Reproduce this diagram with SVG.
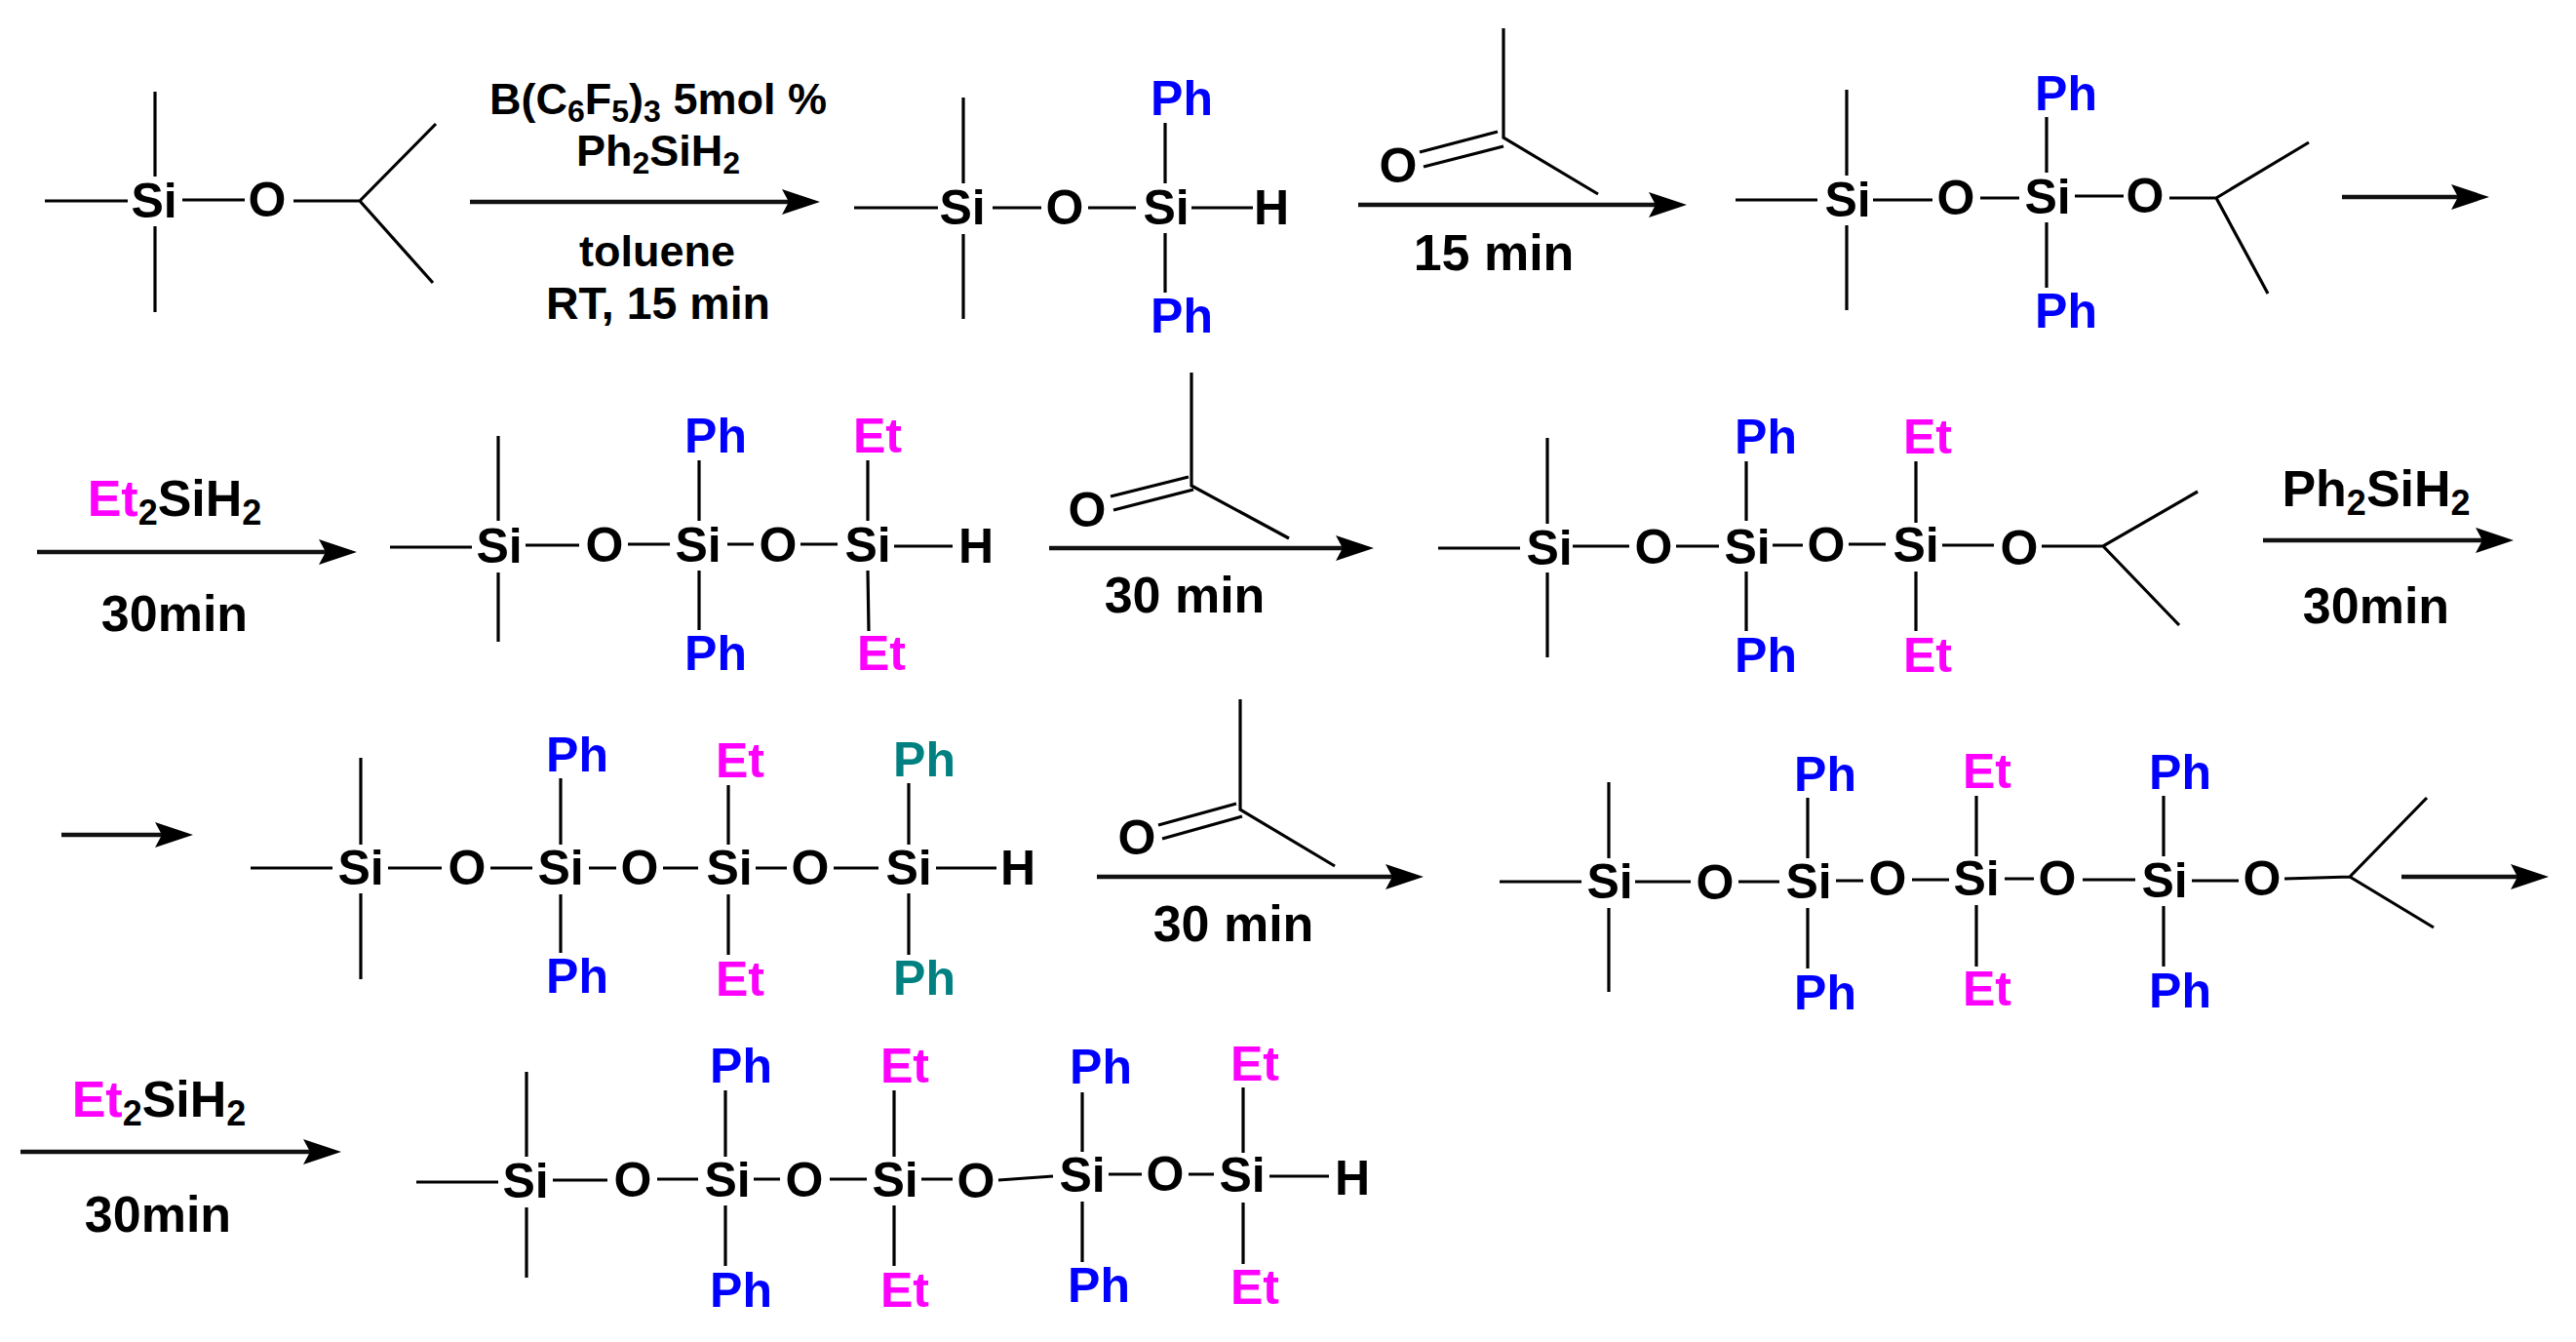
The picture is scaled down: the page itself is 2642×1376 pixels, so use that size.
<svg xmlns="http://www.w3.org/2000/svg" width="2642" height="1376" viewBox="0 0 2642 1376">
<style>
text{font-family:"Liberation Sans",Arial,sans-serif;font-weight:700;text-anchor:middle;fill:#000}
.a{font-size:50px}
.r{font-size:45px}
.t{font-size:52px}
.s{font-size:52px}
.ph{fill:#0000ff}
.et{fill:#ff00ff}
.te{fill:#008080}
.b{fill:none;stroke:#000;stroke-width:3.2;stroke-linecap:butt}
.ar{fill:none;stroke:#111;stroke-width:4.5}
</style>
<defs>
<marker id="head" markerUnits="userSpaceOnUse" markerWidth="44" markerHeight="30" refX="29" refY="15" orient="auto">
<path d="M0,2 L39,15 L0,28 L7,15 Z" fill="#000"/>
</marker>
</defs>
<rect width="2642" height="1376" fill="#fff"/>

<g id="connectors" class="ar">
<line x1="482" y1="207" x2="831" y2="207" marker-end="url(#head)"/>
<line x1="1393" y1="210" x2="1720" y2="210" marker-end="url(#head)"/>
<line x1="2402" y1="202" x2="2543" y2="202" marker-end="url(#head)"/>
<line x1="38" y1="566" x2="356" y2="566" marker-end="url(#head)"/>
<line x1="1076" y1="562" x2="1399" y2="562" marker-end="url(#head)"/>
<line x1="2321" y1="554" x2="2568" y2="554" marker-end="url(#head)"/>
<line x1="63" y1="856" x2="188" y2="856" marker-end="url(#head)"/>
<line x1="1125" y1="899" x2="1450" y2="899" marker-end="url(#head)"/>
<line x1="2463" y1="899" x2="2604" y2="899" marker-end="url(#head)"/>
<line x1="21" y1="1181" x2="340" y2="1181" marker-end="url(#head)"/>
</g>

<g id="reagents1">
<text class="r" x="675" y="117">B(C<tspan font-size="32" dy="8">6</tspan><tspan dy="-8">F</tspan><tspan font-size="32" dy="8">5</tspan><tspan dy="-8">)</tspan><tspan font-size="32" dy="8">3</tspan><tspan dy="-8"> 5mol %</tspan></text>
<text class="r" x="675" y="170">Ph<tspan font-size="32" dy="8">2</tspan><tspan dy="-8">SiH</tspan><tspan font-size="32" dy="8">2</tspan></text>
<text class="r" x="674" y="273">toluene</text>
<text class="r" x="675" y="327" font-size="46" style="font-size:46.5px">RT, 15 min</text>
</g>
<g id="reagents2"><text class="t" x="1532" y="277">15 min</text></g>
<g id="reagents3">
<text class="s" x="179" y="529"><tspan class="et">Et</tspan><tspan font-size="36" dy="9">2</tspan><tspan dy="-9">SiH</tspan><tspan font-size="36" dy="9">2</tspan></text>
<text class="t" x="179" y="647">30min</text>
</g>
<g id="reagents4"><text class="t" x="1215" y="628">30 min</text></g>
<g id="reagents5">
<text class="s" x="2437" y="519">Ph<tspan font-size="36" dy="9">2</tspan><tspan dy="-9">SiH</tspan><tspan font-size="36" dy="9">2</tspan></text>
<text class="t" x="2437" y="639">30min</text>
</g>
<g id="reagents6"><text class="t" x="1265" y="965">30 min</text></g>
<g id="reagents7">
<text class="s" x="163" y="1145"><tspan class="et">Et</tspan><tspan font-size="36" dy="9">2</tspan><tspan dy="-9">SiH</tspan><tspan font-size="36" dy="9">2</tspan></text>
<text class="t" x="162" y="1263">30min</text>
</g>

<g id="acetone1">
<path class="b" d="M1542,29V141L1639,199M1456,156L1536,135M1460,171L1542,150"/>
<text class="a" x="1434" y="187">O</text>
</g>
<g id="acetone2">
<path class="b" d="M1222,382V498L1322,552M1139,509L1219,489M1142,523L1224,502"/>
<text class="a" x="1115" y="540">O</text>
</g>
<g id="acetone3">
<path class="b" d="M1272,717V830L1369,888M1188,846L1268,824M1192,860L1274,837"/>
<text class="a" x="1166" y="876">O</text>
</g>

<g id="mol1">
<path class="b" d="M46,206H131M159,94V181M159,232V320M187,205H251M301,206H369L447,127M369,206L444,290"/>
<text class="a" x="158" y="223">Si</text>
<text class="a" x="274" y="222">O</text>
</g>

<g id="mol2">
<path class="b" d="M876,213H962M988,100V188M988,240V327M1018,213H1068M1116,213H1165M1195,126V188M1195,239V300M1222,213H1285"/>
<text class="a" x="987" y="230">Si</text>
<text class="a" x="1092" y="230">O</text>
<text class="a" x="1196" y="230">Si</text>
<text class="a" x="1304" y="230">H</text>
<text class="a ph" x="1212" y="118">Ph</text>
<text class="a ph" x="1212" y="341">Ph</text>
</g>

<g id="mol3">
<path class="b" d="M1780,205H1864M1894,92V180M1894,231V318M1921,205H1982M2031,203H2071M2099,120V177M2099,228V295M2128,201H2178M2225,203H2273L2368,146M2273,203L2326,301"/>
<text class="a" x="1895" y="222">Si</text>
<text class="a" x="2006" y="220">O</text>
<text class="a" x="2100" y="219">Si</text>
<text class="a" x="2200" y="218">O</text>
<text class="a ph" x="2119" y="113">Ph</text>
<text class="a ph" x="2119" y="336">Ph</text>
</g>

<g id="mol4">
<path class="b" d="M400,561H484M511,447V534M511,587V658M539,559H594M644,558H687M717,472V534M717,585V646M746,558H773M821,558H859M890,472V534M890,585L891,647M917,560H977"/>
<text class="a" x="512" y="577">Si</text>
<text class="a" x="620" y="576">O</text>
<text class="a" x="716" y="576">Si</text>
<text class="a" x="798" y="576">O</text>
<text class="a" x="890" y="576">Si</text>
<text class="a" x="1001" y="577">H</text>
<text class="a ph" x="734" y="464">Ph</text>
<text class="a ph" x="734" y="687">Ph</text>
<text class="a et" x="900" y="464">Et</text>
<text class="a et" x="904" y="687">Et</text>
</g>

<g id="mol5">
<path class="b" d="M1475,562H1559M1587,449V537M1587,587V674M1613,560H1671M1719,560H1763M1791,473V534M1791,586V647M1818,559H1849M1896,558H1934M1965,473V536M1965,586V647M1992,559H2045M2094,560H2157L2254,504M2157,560L2235,641"/>
<text class="a" x="1589" y="579">Si</text>
<text class="a" x="1696" y="578">O</text>
<text class="a" x="1792" y="578">Si</text>
<text class="a" x="1873" y="576">O</text>
<text class="a" x="1965" y="576">Si</text>
<text class="a" x="2071" y="579">O</text>
<text class="a ph" x="1811" y="465">Ph</text>
<text class="a ph" x="1811" y="689">Ph</text>
<text class="a et" x="1977" y="465">Et</text>
<text class="a et" x="1977" y="689">Et</text>
</g>

<g id="mol6">
<path class="b" d="M257,890H341M370,777V866M370,916V1004M398,890H453M503,890H546M575,798V866M575,917V977M604,890H632M680,890H716M747,805V866M747,917V979M775,890H807M855,890H901M932,803V866M932,916V979M960,890H1022"/>
<text class="a" x="370" y="907">Si</text>
<text class="a" x="479" y="907">O</text>
<text class="a" x="575" y="907">Si</text>
<text class="a" x="656" y="907">O</text>
<text class="a" x="748" y="907">Si</text>
<text class="a" x="831" y="907">O</text>
<text class="a" x="932" y="907">Si</text>
<text class="a" x="1044" y="907">H</text>
<text class="a ph" x="592" y="791">Ph</text>
<text class="a ph" x="592" y="1018">Ph</text>
<text class="a et" x="759" y="797">Et</text>
<text class="a et" x="759" y="1021">Et</text>
<text class="a te" x="948" y="796">Ph</text>
<text class="a te" x="948" y="1020">Ph</text>
</g>

<g id="mol7">
<path class="b" d="M1538,904H1622M1650,802V880M1650,931V1017M1677,904H1734M1783,904H1825M1854,818V880M1854,931V993M1883,903H1911M1961,902H1999M2027,816V878M2027,928V991M2056,901H2086M2136,902H2190M2219,816V878M2219,929V991M2248,903H2296M2343,901L2410,899L2489,818M2410,899L2496,951"/>
<text class="a" x="1651" y="921">Si</text>
<text class="a" x="1759" y="922">O</text>
<text class="a" x="1855" y="921">Si</text>
<text class="a" x="1936" y="918">O</text>
<text class="a" x="2027" y="918">Si</text>
<text class="a" x="2110" y="918">O</text>
<text class="a" x="2220" y="920">Si</text>
<text class="a" x="2320" y="918">O</text>
<text class="a ph" x="1872" y="811">Ph</text>
<text class="a ph" x="1872" y="1035">Ph</text>
<text class="a et" x="2038" y="808">Et</text>
<text class="a et" x="2038" y="1031">Et</text>
<text class="a ph" x="2236" y="809">Ph</text>
<text class="a ph" x="2236" y="1033">Ph</text>
</g>

<g id="mol8">
<path class="b" d="M427,1212H511M540,1099V1186M540,1238V1310M567,1210H623M674,1209H716M744,1118V1186M744,1236V1298M773,1209H800M851,1209H889M917,1118V1186M917,1236V1298M945,1209H977M1024,1210L1080,1206M1110,1120V1181M1110,1232V1294M1137,1204H1171M1219,1204H1245M1275,1115V1182M1275,1233V1296M1302,1206H1363"/>
<text class="a" x="539" y="1228">Si</text>
<text class="a" x="649" y="1227">O</text>
<text class="a" x="746" y="1227">Si</text>
<text class="a" x="825" y="1227">O</text>
<text class="a" x="918" y="1227">Si</text>
<text class="a" x="1001" y="1228">O</text>
<text class="a" x="1110" y="1222">Si</text>
<text class="a" x="1195" y="1221">O</text>
<text class="a" x="1274" y="1222">Si</text>
<text class="a" x="1387" y="1225">H</text>
<text class="a ph" x="760" y="1110">Ph</text>
<text class="a ph" x="760" y="1340">Ph</text>
<text class="a et" x="928" y="1110">Et</text>
<text class="a et" x="928" y="1340">Et</text>
<text class="a ph" x="1129" y="1111">Ph</text>
<text class="a ph" x="1127" y="1335">Ph</text>
<text class="a et" x="1287" y="1108">Et</text>
<text class="a et" x="1287" y="1337">Et</text>
</g>
</svg>
